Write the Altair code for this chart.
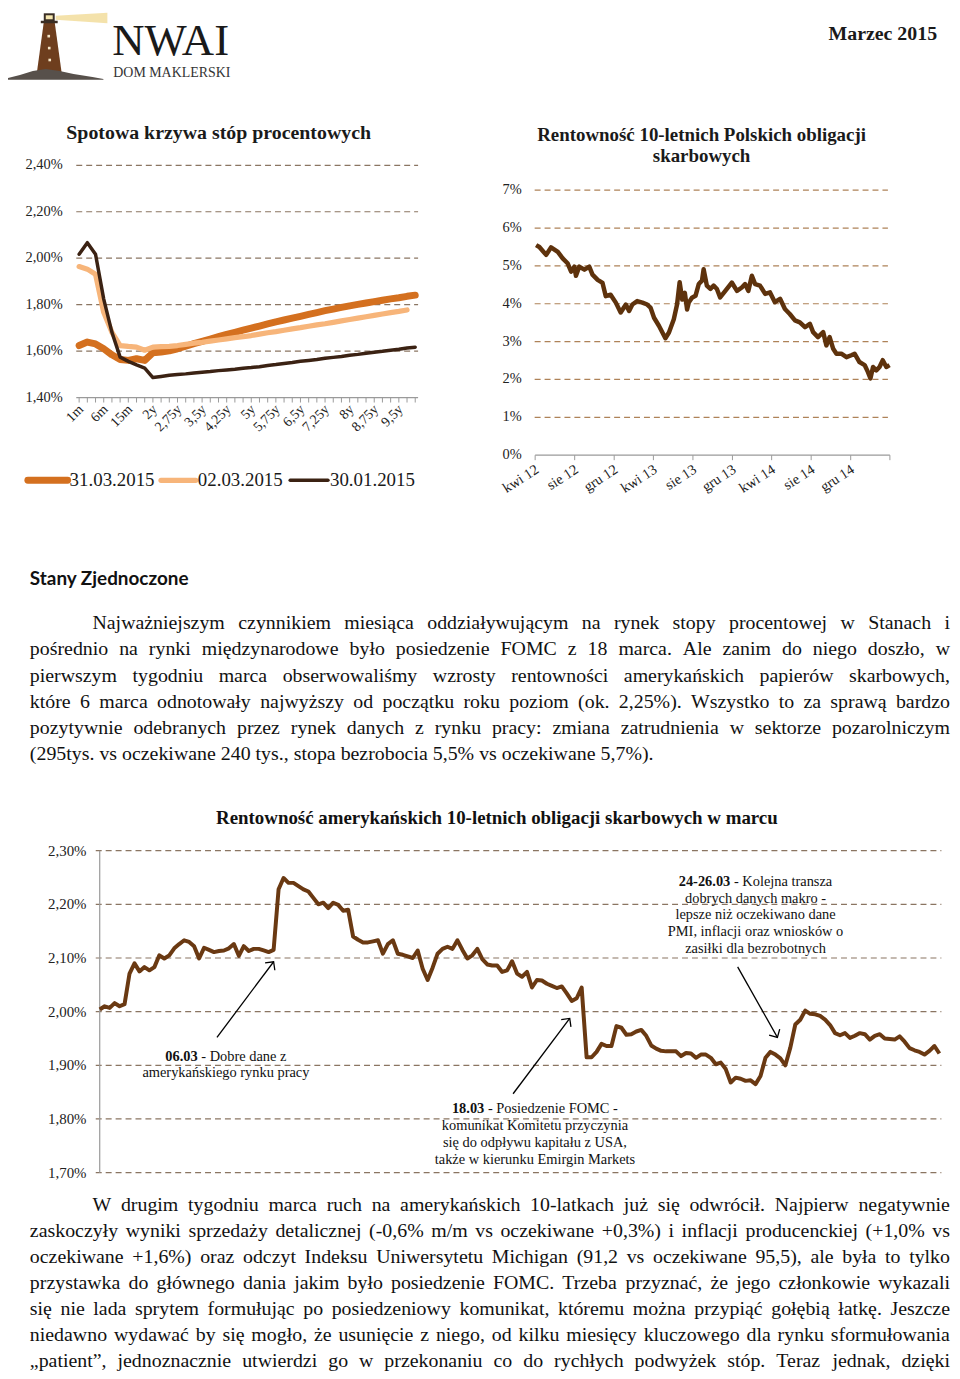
import math
import altair as alt
import pandas as pd

SERIF = "Liberation Serif"
SANS = "Lato"

# ---------------- DATA ----------------
# Spotowa krzywa stóp procentowych
tenors = ["1m", "2m", "3m", "6m", "9m", "12m", "15m", "18m", "21m", "2y", "2,25y", "2,5y", "2,75y",
          "3y", "3,25y", "3,5y", "3,75y", "4y", "4,25y", "4,5y", "4,75y", "5y", "5,25y", "5,5y",
          "5,75y", "6y", "6,25y", "6,5y", "6,75y", "7y", "7,25y", "7,5y", "7,75y", "8y", "8,25y",
          "8,5y", "8,75y", "9y", "9,25y", "9,5y", "9,75y", "10y"]
tenor_labels = ["1m", "6m", "15m", "2y", "2,75y", "3,5y", "4,25y", "5y", "5,75y", "6,5y", "7,25y",
                "8y", "8,75y", "9,5y"]
spot_series = ["31.03.2015", "02.03.2015", "30.01.2015"]
spot_310315 = [1.624, 1.639, 1.631, 1.610, 1.584, 1.564, 1.560, 1.567, 1.560, 1.593, 1.596, 1.601,
               1.610, 1.621, 1.632, 1.642, 1.652, 1.662, 1.672, 1.681, 1.690, 1.699, 1.708, 1.717,
               1.726, 1.734, 1.742, 1.750, 1.758, 1.766, 1.774, 1.781, 1.788, 1.795, 1.801, 1.807,
               1.813, 1.819, 1.825, 1.830, 1.836, 1.841]
spot_020315 = [1.964, 1.953, 1.931, 1.767, 1.681, 1.624, 1.620, 1.617, 1.604, 1.617, 1.619, 1.620,
               1.624, 1.629, 1.634, 1.638, 1.643, 1.648, 1.653, 1.658, 1.662, 1.667, 1.673, 1.679,
               1.684, 1.690, 1.696, 1.701, 1.707, 1.713, 1.718, 1.724, 1.730, 1.736, 1.742, 1.748,
               1.754, 1.760, 1.766, 1.771, 1.777]
spot_300115 = [2.017, 2.067, 2.017, 1.824, 1.681, 1.574, 1.556, 1.541, 1.527, 1.486, 1.491, 1.496,
               1.499, 1.502, 1.506, 1.509, 1.512, 1.516, 1.519, 1.522, 1.526, 1.529, 1.533, 1.538,
               1.542, 1.547, 1.551, 1.556, 1.560, 1.564, 1.569, 1.573, 1.577, 1.582, 1.586, 1.591,
               1.595, 1.599, 1.604, 1.608, 1.613, 1.617]
spot_ticks = [1.4, 1.6, 1.8, 2.0, 2.2, 2.4]

# Rentowność 10-letnich polskich obligacji
pl_dates = ["2012-04-04", "2012-04-14", "2012-05-05", "2012-05-20", "2012-06-10", "2012-06-25",
            "2012-07-10", "2012-07-21", "2012-07-31", "2012-08-05", "2012-08-15", "2012-08-31",
            "2012-09-15", "2012-09-25", "2012-10-11", "2012-10-26", "2012-11-05", "2012-11-20",
            "2012-12-06", "2012-12-21", "2013-01-06", "2013-01-16", "2013-01-26", "2013-02-10",
            "2013-02-26", "2013-03-13", "2013-03-23", "2013-04-03", "2013-04-18", "2013-05-08",
            "2013-05-19", "2013-06-03", "2013-06-13", "2013-06-21", "2013-06-29", "2013-07-07",
            "2013-07-14", "2013-07-19", "2013-07-29", "2013-08-09", "2013-08-19", "2013-08-29",
            "2013-09-03", "2013-09-13", "2013-09-24", "2013-10-04", "2013-10-14", "2013-10-24",
            "2013-11-09", "2013-11-29", "2013-12-15", "2013-12-30", "2014-01-09", "2014-01-19",
            "2014-01-30", "2014-02-09", "2014-02-24", "2014-03-12", "2014-03-27", "2014-04-11",
            "2014-04-27", "2014-05-12", "2014-05-27", "2014-06-12", "2014-06-27", "2014-07-13",
            "2014-07-28", "2014-08-07", "2014-08-22", "2014-09-07", "2014-09-17", "2014-09-27",
            "2014-10-08", "2014-10-18", "2014-11-02", "2014-11-18", "2014-12-03", "2014-12-13",
            "2014-12-28", "2015-01-13", "2015-01-23", "2015-01-31", "2015-02-08", "2015-02-18",
            "2015-02-28", "2015-03-10", "2015-03-21", "2015-03-31"]
pl_yield = [5.55, 5.50, 5.29, 5.49, 5.37, 5.20, 5.07, 4.85, 4.98, 4.74, 4.98, 4.90, 4.98, 4.77,
            4.63, 4.55, 4.20, 4.24, 4.03, 3.77, 3.98, 3.81, 3.98, 4.07, 4.03, 3.98, 3.90, 3.63,
            3.42, 3.09, 3.24, 3.59, 3.98, 4.57, 4.11, 4.29, 3.85, 4.03, 4.16, 4.21, 4.52, 4.61,
            4.91, 4.48, 4.39, 4.48, 4.39, 4.17, 4.34, 4.56, 4.34, 4.43, 4.52, 4.34, 4.74, 4.52,
            4.48, 4.26, 4.30, 4.04, 4.13, 3.86, 3.73, 3.56, 3.51, 3.38, 3.47, 3.25, 3.12, 3.25,
            2.90, 3.12, 2.81, 2.68, 2.68, 2.59, 2.64, 2.68, 2.46, 2.38, 2.20, 2.03, 2.33, 2.24,
            2.33, 2.51, 2.33, 2.38]
pl_tick_dates = ["2012-04-01", "2012-08-01", "2012-12-01", "2013-04-01", "2013-08-01", "2013-12-01",
                 "2014-04-01", "2014-08-01", "2014-12-01", "2015-04-01"]
pl_tick_labels = ["kwi 12", "sie 12", "gru 12", "kwi 13", "sie 13", "gru 13", "kwi 14", "sie 14",
                  "gru 14", ""]
pl_ticks = [0, 1, 2, 3, 4, 5, 6, 7]

# Rentowność amerykańskich 10-letnich obligacji w marcu (kolejne notowania)
us_yield = [2.004, 2.010, 2.007, 2.016, 2.010, 2.014, 2.071, 2.090, 2.075, 2.083, 2.077, 2.083,
            2.105, 2.099, 2.105, 2.118, 2.126, 2.133, 2.130, 2.122, 2.099, 2.119, 2.115, 2.111,
            2.113, 2.114, 2.118, 2.126, 2.104, 2.122, 2.113, 2.117, 2.117, 2.114, 2.111, 2.115,
            2.228, 2.249, 2.240, 2.240, 2.234, 2.228, 2.224, 2.212, 2.200, 2.203, 2.193, 2.203,
            2.199, 2.188, 2.190, 2.140, 2.134, 2.129, 2.129, 2.131, 2.133, 2.108, 2.126, 2.133,
            2.108, 2.106, 2.103, 2.100, 2.114, 2.080, 2.059, 2.082, 2.108, 2.117, 2.121, 2.117,
            2.133, 2.115, 2.099, 2.105, 2.117, 2.098, 2.088, 2.086, 2.086, 2.074, 2.077, 2.094,
            2.071, 2.065, 2.074, 2.045, 2.059, 2.058, 2.052, 2.048, 2.044, 2.047, 2.034, 2.020,
            2.025, 2.045, 1.915, 1.915, 1.925, 1.940, 1.936, 1.936, 1.973, 1.970, 1.957, 1.958,
            1.963, 1.966, 1.955, 1.937, 1.931, 1.927, 1.926, 1.926, 1.926, 1.917, 1.923, 1.922,
            1.914, 1.920, 1.920, 1.914, 1.902, 1.905, 1.893, 1.868, 1.877, 1.875, 1.871, 1.872,
            1.865, 1.880, 1.914, 1.925, 1.920, 1.913, 1.900, 1.933, 1.976, 1.985, 2.002, 1.996,
            1.995, 1.992, 1.985, 1.975, 1.960, 1.956, 1.960, 1.951, 1.955, 1.960, 1.958, 1.948,
            1.955, 1.958, 1.950, 1.949, 1.948, 1.954, 1.944, 1.932, 1.928, 1.925, 1.920, 1.927,
            1.936, 1.922]
us_ticks = [1.7, 1.8, 1.9, 2.0, 2.1, 2.2, 2.3]

# annotations: (bold lead, rest) per line; anchor = (obs, value) of first line centre
ann_lines = [
    [("06.03", "- Dobre dane z"), ("", "amerykańskiego rynku pracy")],
    [("18.03", "- Posiedzenie FOMC -"), ("", "komunikat Komitetu przyczynia"),
     ("", "się do odpływu kapitału z USA,"), ("", "także w kierunku Emirgin Markets")],
    [("24-26.03", "- Kolejna transza"), ("", "dobrych danych makro -"), ("", "lepsze niż oczekiwano dane"),
     ("", "PMI, inflacji oraz wniosków o"), ("", "zasiłki dla bezrobotnych")],
]
ann_anchor_obs = [25.4, 87.6, 132.0]
ann_anchor_val = [1.916, 1.818, 2.242]
arrow_tail_obs = [23.6, 83.2, 128.4]
arrow_tail_val = [1.952, 1.847, 2.0835]
arrow_head_obs = [35.0, 94.6, 136.4]
arrow_head_val = [2.093, 1.9875, 1.952]

# page texts
header_brand = "NWAI"
header_sub = "DOM MAKLERSKI"
header_date = "Marzec 2015"
title_left = "Spotowa krzywa stóp procentowych"
title_right = ["Rentowność 10-letnich Polskich obligacji", "skarbowych"]
title_bottom = "Rentowność amerykańskich 10-letnich obligacji skarbowych w marcu"
heading_us = "Stany Zjednoczone"
par1 = [
    "Najważniejszym czynnikiem miesiąca oddziaływującym na rynek stopy procentowej w Stanach i",
    "pośrednio na rynki międzynarodowe było posiedzenie FOMC z 18 marca. Ale zanim do niego doszło, w",
    "pierwszym tygodniu marca obserwowaliśmy wzrosty rentowności amerykańskich papierów skarbowych,",
    "które 6 marca odnotowały najwyższy od początku roku poziom (ok. 2,25%). Wszystko to za sprawą bardzo",
    "pozytywnie odebranych przez rynek danych z rynku pracy: zmiana zatrudnienia w sektorze pozarolniczym",
    "(295tys. vs oczekiwane 240 tys., stopa bezrobocia 5,5% vs oczekiwane 5,7%).",
]
par2 = [
    "W drugim tygodniu marca ruch na amerykańskich 10-latkach już się odwrócił. Najpierw negatywnie",
    "zaskoczyły wyniki sprzedaży detalicznej (-0,6% m/m vs oczekiwane +0,3%) i inflacji producenckiej (+1,0% vs",
    "oczekiwane +1,6%) oraz odczyt Indeksu Uniwersytetu Michigan (91,2 vs oczekiwane 95,5), ale była to tylko",
    "przystawka do głównego dania jakim było posiedzenie FOMC.  Trzeba przyznać, że jego członkowie wykazali",
    "się nie lada sprytem formułując po posiedzeniowy komunikat, któremu można przypiąć gołębią łatkę. Jeszcze",
    "niedawno wydawać by się mogło, że usunięcie z niego, od kilku miesięcy kluczowego dla rynku sformułowania",
    "„patient”, jednoznacznie utwierdzi go w przekonaniu co do rychłych podwyżek stóp. Teraz jednak, dzięki",
]

# ---------------- text metrics (Times / Liberation Serif) ----------------
_REG = {' ': 250, '%': 833, '(': 333, ')': 333, ',': 250, '-': 333, '.': 250, '/': 278, ':': 278,
        ';': 278, '+': 564, '„': 444, '”': 444, '“': 444}
_BOLD = {' ': 250, '%': 1000, '(': 333, ')': 333, ',': 250, '-': 333, '.': 250, '/': 278, ':': 333,
         ';': 333, '+': 570}
for _c in "0123456789":
    _REG[_c] = 500
    _BOLD[_c] = 500
_REG.update(dict(zip("ABCDEFGHIJKLMNOPQRSTUVWXYZ",
                     [722, 667, 667, 722, 611, 556, 722, 722, 333, 389, 722, 611, 889, 722, 722, 556,
                      722, 667, 556, 611, 722, 722, 944, 722, 722, 611])))
_REG.update(dict(zip("abcdefghijklmnopqrstuvwxyz",
                     [444, 500, 444, 500, 444, 333, 500, 500, 278, 278, 500, 278, 778, 500, 500, 500,
                      500, 333, 389, 278, 500, 500, 722, 500, 500, 444])))
_BOLD.update(dict(zip("ABCDEFGHIJKLMNOPQRSTUVWXYZ",
                      [722, 667, 722, 722, 667, 611, 778, 778, 389, 500, 778, 667, 944, 722, 778, 611,
                       778, 722, 556, 667, 722, 722, 1000, 722, 722, 667])))
_BOLD.update(dict(zip("abcdefghijklmnopqrstuvwxyz",
                      [500, 556, 444, 556, 444, 333, 500, 556, 278, 333, 556, 278, 833, 556, 500, 556,
                       556, 444, 389, 333, 556, 500, 722, 500, 500, 444])))
_PL = str.maketrans("ąćęłńóśźżĄĆĘŁŃÓŚŹŻ", "acelnoszzACELNOSZZ")


def text_width(s, size, bold=False):
    table = _BOLD if bold else _REG
    return sum(table.get(c, 500) for c in s.translate(_PL)) * size / 1000.0


def justify(lines, x_first, x_left, x_right, y0, pitch, size, last_justified):
    rows = []
    for i, line in enumerate(lines):
        words = line.split()
        x0 = x_first if i == 0 else x_left
        widths = [text_width(w, size) for w in words]
        just = (i < len(lines) - 1) or last_justified
        if just and len(words) > 1:
            gap = (x_right - x0 - sum(widths)) / (len(words) - 1)
        else:
            gap = text_width(" ", size)
        x = x0
        for w, wd in zip(words, widths):
            rows.append({"x": x, "y": y0 + i * pitch, "t": w})
            x += wd + gap
    return rows


def pct2(v):
    return f"{v:.2f}".replace(".", ",") + "%"


# ---------------- helpers (page layout in pixels) ----------------
PAGE_W, PAGE_H = 950, 1363
ONE = pd.DataFrame({"a": [0]})
AXIS_GREY = "#9A9A9A"
INK = "#1A1A1A"


def text_layer(rows, **style):
    return alt.Chart(pd.DataFrame(rows)).mark_text(**style).encode(
        x=alt.X("x:Q", scale=None), y=alt.Y("y:Q", scale=None), text="t:N")


def rule_px(x0, x1, y0, y1, **style):
    return alt.Chart(ONE).mark_rule(**style).encode(
        x=alt.value(x0), x2=alt.value(x1), y=alt.value(y0), y2=alt.value(y1))


def grid_layer(values, yscale, x0, x1, color):
    return alt.Chart(pd.DataFrame({"value": values})).mark_rule(
        color=color, strokeDash=[6, 4], strokeWidth=1.2).encode(
        y=alt.Y("value:Q", scale=yscale, axis=None), x=alt.value(x0), x2=alt.value(x1))


def ylabel_layer(values, labels, yscale, x_right, size):
    return alt.Chart(pd.DataFrame({"value": values, "t": labels})).mark_text(
        align="right", baseline="middle", font=SERIF, fontSize=size, color="#222222").encode(
        y=alt.Y("value:Q", scale=yscale, axis=None), x=alt.value(x_right), text="t:N")


# ---------------- header ----------------
beam = alt.Chart(pd.DataFrame([{"x": 48, "y": 3.5, "y2": 7.5}, {"x": 100, "y": 0.5, "y2": 11}])).mark_area(
    color="#F3DFA2", opacity=0.9).encode(x=alt.X("x:Q", scale=None), y=alt.Y("y:Q", scale=None), y2="y2:Q")
tower = alt.Chart(pd.DataFrame([{"y": 10, "x": 36, "x2": 47}, {"y": 61, "x": 29, "x2": 54}])).mark_area(
    orient="horizontal", color="#6E3E1E").encode(y=alt.Y("y:Q", scale=None), x=alt.X("x:Q", scale=None), x2="x2:Q")
lantern = alt.Chart(pd.DataFrame([{"x": 36, "x2": 47, "y": 1, "y2": 9},
                                  {"x": 33, "x2": 50, "y": 8.5, "y2": 11}])).mark_rect(color="#3A2E25").encode(
    x=alt.X("x:Q", scale=None), x2="x2:Q", y=alt.Y("y:Q", scale=None), y2="y2:Q")
lamp = alt.Chart(pd.DataFrame([{"x": 38, "x2": 45, "y": 3, "y2": 7}])).mark_rect(color="#F6E7B0").encode(
    x=alt.X("x:Q", scale=None), x2="x2:Q", y=alt.Y("y:Q", scale=None), y2="y2:Q")
windows = alt.Chart(pd.DataFrame([{"x": 41, "y": 24}, {"x": 41.5, "y": 36}, {"x": 42, "y": 48}])).mark_point(
    shape="square", filled=True, color="#F4E6C8", size=7, opacity=1).encode(
    x=alt.X("x:Q", scale=None), y=alt.Y("y:Q", scale=None))
rocks = alt.Chart(pd.DataFrame([{"x": 0, "y": 66, "y2": 68}, {"x": 12, "y": 63, "y2": 68}, {"x": 25, "y": 59, "y2": 68},
                                {"x": 38, "y": 57, "y2": 68}, {"x": 52, "y": 59, "y2": 68}, {"x": 66, "y": 62, "y2": 68},
                                {"x": 85, "y": 65, "y2": 68}, {"x": 96, "y": 67, "y2": 68}])).mark_area(
    color="#57504B").encode(x=alt.X("x:Q", scale=None), y=alt.Y("y:Q", scale=None), y2="y2:Q")

header_layers = [
    beam, tower, lantern, lamp, windows, rocks,
    text_layer([{"x": 105, "y": 43, "t": header_brand}], font=SERIF, fontSize=45, align="left",
               baseline="alphabetic", color=INK),
    text_layer([{"x": 106, "y": 65, "t": header_sub}], font=SERIF, fontSize=14, align="left",
               baseline="alphabetic", color="#333333"),
    text_layer([{"x": 935, "y": 22, "t": header_date}], font=SERIF, fontSize=20, fontWeight="bold",
               align="right", baseline="middle", color=INK),
    text_layer([{"x": 212, "y": 122, "t": title_left}], font=SERIF, fontSize=20, fontWeight="bold",
               align="center", baseline="middle", color=INK),
    text_layer([{"x": 698, "y": 124 + 21 * i, "t": t} for i, t in enumerate(title_right)], font=SERIF,
               fontSize=19, fontWeight="bold", align="center", baseline="middle", color=INK),
]

# ---------------- spot curve chart (top left) ----------------
LX0, LX1, LY0, LY1 = 68.7, 412.7, 387.7, 154.0
lx = alt.Scale(type="point", domain=tenors, range=[LX0, LX1], padding=0.35)
ly = alt.Scale(domain=[1.4, 2.4], range=[LY0, LY1], nice=False, zero=False)
spot_colors = ["#D4701F", "#F7B57A", "#3B2213"]
spot_widths = [7, 3.5, 3.5]

curve_rows = []
for name, vals in zip(spot_series, [spot_310315, spot_020315, spot_300115]):
    for t, v in zip(tenors, vals):
        curve_rows.append({"tenor": t, "seria": name, "value": v})
curve_df = pd.DataFrame(curve_rows)

spot_lines = alt.Chart(curve_df).mark_line(strokeCap="round", strokeJoin="round").encode(
    x=alt.X("tenor:O", scale=lx, axis=None),
    y=alt.Y("value:Q", scale=ly, axis=None),
    color=alt.Color("seria:N", scale=alt.Scale(domain=spot_series, range=spot_colors), legend=None),
    strokeWidth=alt.StrokeWidth("seria:N", scale=alt.Scale(domain=spot_series, range=spot_widths), legend=None),
    order=alt.Order("seria:N", sort="descending"),
)
spot_ticks_layer = alt.Chart(pd.DataFrame({"tenor": tenors})).mark_rule(color=AXIS_GREY).encode(
    x=alt.X("tenor:O", scale=lx, axis=None), y=alt.value(LY0), y2=alt.value(LY0 + 5))
spot_xlabels = alt.Chart(pd.DataFrame({"tenor": tenor_labels})).mark_text(
    angle=315, align="right", baseline="middle", font=SERIF, fontSize=14, color="#222222", dx=3).encode(
    x=alt.X("tenor:O", scale=lx, axis=None), y=alt.value(LY0 + 12), text="tenor:N")

legend_rows = []
legend_sym_x = [(20, 60), (154, 189), (284, 322)]
for name, (a, b) in zip(spot_series, legend_sym_x):
    legend_rows.append({"x": a, "x2": b, "y": 471, "seria": name, "lx": b + 2})
leg_df = pd.DataFrame(legend_rows)
legend_lines = alt.Chart(leg_df).mark_rule(strokeCap="round").encode(
    x=alt.X("x:Q", scale=None), x2="x2:Q", y=alt.Y("y:Q", scale=None),
    color=alt.Color("seria:N", scale=alt.Scale(domain=spot_series, range=spot_colors), legend=None),
    strokeWidth=alt.StrokeWidth("seria:N", scale=alt.Scale(domain=spot_series, range=spot_widths), legend=None))
legend_text = alt.Chart(leg_df).mark_text(align="left", baseline="middle", font=SERIF, fontSize=19,
                                          color=INK).encode(
    x=alt.X("lx:Q", scale=None), y=alt.Y("y:Q", scale=None), text="seria:N")

left_group = alt.layer(
    grid_layer(spot_ticks[1:], ly, LX0, LX1, "#8A7562"),
    rule_px(LX0, LX1, LY0, LY0, color=AXIS_GREY, strokeWidth=1.2),
    spot_ticks_layer, spot_xlabels,
    ylabel_layer(spot_ticks, [pct2(v) for v in spot_ticks], ly, 55, 14.5),
    spot_lines,
)

# ---------------- Polish 10y chart (top right) ----------------
RX0, RX1, RY0, RY1 = 530.5, 887.5, 445.7, 179.0
rx = alt.Scale(domain=[alt.DateTime(year=2012, month=4, date=1, utc=True),
                       alt.DateTime(year=2015, month=4, date=1, utc=True)], range=[RX0, RX1])
ry = alt.Scale(domain=[0, 7], range=[RY0, RY1], nice=False, zero=False)
pl_df = pd.DataFrame({"data": pl_dates, "value": pl_yield})
pl_line = alt.Chart(pl_df).mark_line(color="#5E320C", strokeWidth=4.5, strokeJoin="round").encode(
    x=alt.X("data:T", scale=rx, axis=None), y=alt.Y("value:Q", scale=ry, axis=None))
pl_tick_df = pd.DataFrame({"data": pl_tick_dates, "t": pl_tick_labels})
pl_ticks_layer = alt.Chart(pl_tick_df).mark_rule(color=AXIS_GREY).encode(
    x=alt.X("data:T", scale=rx, axis=None), y=alt.value(RY0), y2=alt.value(RY0 + 5))
pl_xlabels = alt.Chart(pl_tick_df).mark_text(
    angle=327, align="right", baseline="middle", font=SERIF, fontSize=14.5, color="#222222", dx=3).encode(
    x=alt.X("data:T", scale=rx, axis=None), y=alt.value(RY0 + 15), text="t:N")

right_group = alt.layer(
    grid_layer(pl_ticks[1:], ry, RX0 - 0.5, RX1 - 2, "#AE8258"),
    rule_px(RX0, RX1, RY0, RY0, color=AXIS_GREY, strokeWidth=1.2),
    pl_ticks_layer, pl_xlabels,
    ylabel_layer(pl_ticks, [f"{v}%" for v in pl_ticks], ry, 517, 14.5),
    pl_line,
)

# ---------------- text block 1 ----------------
text1_layers = [
    text_layer([{"x": 22, "y": 570, "t": heading_us}], font=SANS, fontSize=19, fontWeight="bold",
               align="left", baseline="middle", color="#111111"),
    text_layer(justify(par1, 85, 22, 948, 615, 26.25, 20, False), font=SERIF, fontSize=20,
               align="left", baseline="middle", color="#111111"),
    text_layer([{"x": 492, "y": 811, "t": title_bottom}], font=SERIF, fontSize=19, fontWeight="bold",
               align="center", baseline="middle", color="#111111"),
]

# ---------------- US 10y chart (bottom) ----------------
BX0, BX1, BY0, BY1 = 92.3, 939.3, 1167.7, 843.7
x_max = 169.4
px_per_obs = (BX1 - BX0) / x_max
px_per_val = (BY0 - BY1) / 0.6
bx = alt.Scale(domain=[0, x_max], range=[BX0, BX1], nice=False, zero=False)
by = alt.Scale(domain=[1.7, 2.3], range=[BY0, BY1], nice=False, zero=False)

us_df = pd.DataFrame({"obs": list(range(len(us_yield))), "value": us_yield})
us_line = alt.Chart(us_df).mark_line(color="#6A3912", strokeWidth=4, strokeJoin="round").encode(
    x=alt.X("obs:Q", scale=bx, axis=None), y=alt.Y("value:Q", scale=by, axis=None))

arrows = []
for tx, ty, hx, hy in zip(arrow_tail_obs, arrow_tail_val, arrow_head_obs, arrow_head_val):
    dx = (hx - tx) * px_per_obs
    dy = -(hy - ty) * px_per_val
    ang = math.degrees(math.atan2(dx, -dy)) % 360
    arrows.append({"obs": tx, "value": ty, "obs2": hx, "value2": hy, "ang": ang})
arr_df = pd.DataFrame(arrows)
shafts = alt.Chart(arr_df).mark_rule(color="#000000", strokeWidth=1.3).encode(
    x=alt.X("obs:Q", scale=bx, axis=None), y=alt.Y("value:Q", scale=by, axis=None),
    x2="obs2:Q", y2="value2:Q")
heads = alt.Chart(arr_df).mark_point(shape="M-1,1L0,0L1,1", filled=False, color="#000000", strokeWidth=1.3,
                                     size=150, opacity=1).encode(
    x=alt.X("obs2:Q", scale=bx, axis=None), y=alt.Y("value2:Q", scale=by, axis=None),
    angle=alt.Angle("ang:Q", scale=None))

ANN = 14.5
pitch_val = 16.9 / px_per_val
bold_rows, regl_rows, regc_rows = [], [], []
for lines, cx, cy in zip(ann_lines, ann_anchor_obs, ann_anchor_val):
    for i, (b, r) in enumerate(lines):
        yv = cy - i * pitch_val
        if b:
            wb = text_width(b + " ", ANN, bold=True)
            wr = text_width(r, ANN)
            left = cx * px_per_obs - (wb + wr) / 2
            bold_rows.append({"obs": left / px_per_obs, "value": yv, "t": b})
            regl_rows.append({"obs": (left + wb) / px_per_obs, "value": yv, "t": r})
        else:
            regc_rows.append({"obs": cx, "value": yv, "t": r})


def ann_layer(rows, **style):
    return alt.Chart(pd.DataFrame(rows)).mark_text(font=SERIF, fontSize=ANN, baseline="middle",
                                                   color="#111111", **style).encode(
        x=alt.X("obs:Q", scale=bx, axis=None), y=alt.Y("value:Q", scale=by, axis=None), text="t:N")


bottom_group = alt.layer(
    grid_layer(us_ticks, by, BX0 - 4, BX1, "#8A7562"),
    rule_px(BX0, BX0, BY1, BY0, color=AXIS_GREY, strokeWidth=1.2),
    ylabel_layer(us_ticks, [pct2(v) for v in us_ticks], by, 79, 15),
    us_line, shafts, heads,
    ann_layer(bold_rows, align="left", fontWeight="bold"),
    ann_layer(regl_rows, align="left"),
    ann_layer(regc_rows, align="center"),
)

# ---------------- text block 2 ----------------
text2_layers = [
    text_layer(justify(par2, 85, 22, 948, 1200, 26.25, 20, True), font=SERIF, fontSize=20,
               align="left", baseline="middle", color="#111111"),
]

chart = alt.layer(
    *header_layers, left_group, legend_lines, legend_text, right_group, *text1_layers, bottom_group,
    *text2_layers,
).resolve_scale(
    x="independent", y="independent", color="independent", strokeWidth="independent"
).properties(
    width=PAGE_W, height=PAGE_H, autosize=alt.AutoSizeParams(type="none"), padding=0, background="white"
).configure_view(stroke=None)

chart.save("out.html", embed_options={"renderer": "svg", "actions": False})
